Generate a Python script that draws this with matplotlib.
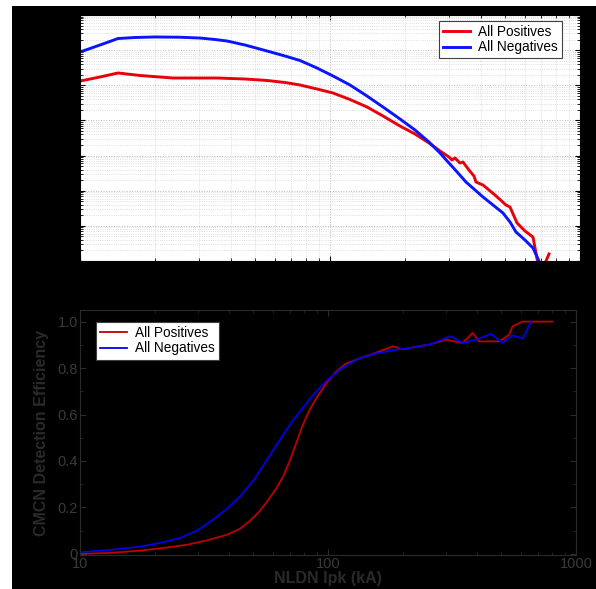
import matplotlib
matplotlib.use("Agg")
import matplotlib.pyplot as plt
from matplotlib.patches import Rectangle
from matplotlib.ticker import LogLocator, NullFormatter, FixedLocator, FixedFormatter

plt.rcParams['font.family'] = ['Liberation Sans', 'DejaVu Sans']

# ---------------- top panel: Ipk distributions (log-log) ----------------
pos_hist_x = [10, 12.02, 14.19, 17.38, 23.55, 35.32, 45.71, 55.98, 66.07, 75.86,
              88.72, 102.8, 120.2, 140.6, 162.9, 190.5, 218.8, 248.9, 275.4, 299.2,
              307.6, 316.2, 331.1, 340.4, 359.7, 376.7, 383.7, 409.3, 457.1, 505.8,
              524.8, 559.8, 602.6, 648.6, 692.0, 751.6]
pos_hist_y = [1.32e5, 1.72e5, 2.24e5, 1.90e5, 1.61e5, 1.61e5, 1.51e5, 1.37e5,
              1.20e5, 1.02e5, 7.84e4, 6.03e4, 3.94e4, 2.41e4, 1.34e4, 6.93e3,
              4.11e3, 2.28e3, 1.35e3, 910, 748, 853, 614, 656, 388, 262, 177, 145,
              75.5, 39.2, 34.4, 12.1, 7.13, 4.81, 0.4, 1.58]

neg_hist_x = [10, 12.02, 14.19, 16.6, 19.95, 25.12, 30.2, 34.67, 38.73, 45.71,
              55.98, 66.07, 75.86, 88.72, 102.8, 120.2, 140.6, 162.9, 190.5, 218.8,
              248.9, 275.4, 299.2, 325.1, 349.9, 380.2, 409.3, 448.7, 492.0, 524.8,
              554.6, 602.6, 648.6, 685.5, 704.7]
neg_hist_y = [8.85e5, 1.40e6, 2.14e6, 2.29e6, 2.37e6, 2.33e6, 2.21e6, 2.01e6,
              1.82e6, 1.40e6, 9.46e5, 6.81e5, 5.07e5, 3.10e5, 1.84e5, 1.02e5,
              4.95e4, 2.41e4, 1.10e4, 5.33e3, 2.43e3, 1.18e3, 614, 319, 177, 105,
              66.2, 39.2, 23.2, 12.9, 6.68, 3.95, 2.34, 1.0, 0.4]

# ---------------- bottom panel: detection efficiency ----------------
pos_eff_x = [10, 13.21, 17.46, 22.01, 27.0, 32.51, 39.13, 44.17, 48.45, 52.72,
             56.75, 61.71, 65.87, 70.27, 74.31, 78.5, 83.8, 89.5, 98.2, 107.7,
             118.2, 129.7, 156.2, 182.8, 200, 220, 256, 299, 349, 383, 407, 491,
             538, 555, 610, 805]
pos_eff_y = [0.0, 0.004, 0.014, 0.026, 0.039, 0.058, 0.082, 0.108, 0.142, 0.181,
             0.224, 0.280, 0.332, 0.403, 0.474, 0.545, 0.615, 0.668, 0.733, 0.784,
             0.819, 0.836, 0.866, 0.894, 0.880, 0.889, 0.901, 0.922, 0.908, 0.951,
             0.915, 0.915, 0.944, 0.980, 1.0, 1.0]

neg_eff_x = [10, 13.21, 17.46, 21.02, 25.30, 29.62, 34.37, 39.13, 44.17, 50.32,
             56.75, 64.0, 71.6, 77.1, 84.6, 92.8, 101.9, 114.9, 129.7, 154.7,
             187.9, 210, 256, 313, 349, 395, 454, 506, 555, 610, 659]
neg_eff_y = [0.007, 0.017, 0.031, 0.047, 0.068, 0.099, 0.147, 0.194, 0.247, 0.319,
             0.405, 0.491, 0.569, 0.613, 0.668, 0.716, 0.759, 0.802, 0.836, 0.862,
             0.879, 0.885, 0.901, 0.937, 0.908, 0.922, 0.947, 0.908, 0.941, 0.927,
             1.0]

series_labels = ["All Positives", "All Negatives"]
x_ticks = [10, 100, 1000]
x_ticklabels = ["10", "100", "1000"]
y_ticks = [0, 0.2, 0.4, 0.6, 0.8, 1.0]
y_ticklabels = ["0", "0.2", "0.4", "0.6", "0.8", "1.0"]

W, H = 596, 589
fig = plt.figure(figsize=(W / 100, H / 100), dpi=100, facecolor='white')
fig.patches.append(Rectangle((12 / W, 0), (W - 12) / W, (H - 6) / H,
                             transform=fig.transFigure, facecolor='black',
                             edgecolor='none', zorder=-10))

# ---- top axes ----
ax1 = fig.add_axes([80 / W, 1 - 261 / H, 500 / W, 246 / H])
ax1.set_facecolor('white')
ax1.plot(pos_hist_x, pos_hist_y, color='#e8000b', lw=2.1, label=series_labels[0])
ax1.plot(neg_hist_x, neg_hist_y, color='#0a14ff', lw=2.1, label=series_labels[1])
ax1.set_xscale('log')
ax1.set_yscale('log')
ax1.set_xlim(10, 1000)
ax1.set_ylim(1, 1e7)
ax1.yaxis.set_major_locator(LogLocator(base=10, numticks=20))
ax1.yaxis.set_minor_locator(LogLocator(base=10, subs=range(2, 10), numticks=20))
ax1.grid(True, which='major', linestyle=':', color='#b8b8b8', lw=0.7)
ax1.grid(True, which='minor', linestyle=':', color='#d4d4d4', lw=0.6)
ax1.tick_params(which='both', direction='in', top=True, right=True, colors='black',
                labelcolor='black', labelsize=10)
for s in ax1.spines.values():
    s.set_color('black')
leg1 = ax1.legend(loc='upper right', fontsize=9.8, frameon=True, fancybox=False,
                  edgecolor='#404040', framealpha=1, borderpad=0.3,
                  handlelength=2.0, handletextpad=0.6, labelspacing=0.1,
                  borderaxespad=0, bbox_to_anchor=(0.964, 0.976))
leg1.get_frame().set_linewidth(0.8)

# ---- bottom axes ----
dark = '#2a2a2a'
tick_col = '#3a3a3a'
ax2 = fig.add_axes([80 / W, 1 - 555 / H, 496 / W, 245 / H])
ax2.set_facecolor('black')
ax2.plot(pos_eff_x, pos_eff_y, color='#c00000', lw=1.3, label=series_labels[0])
ax2.plot(neg_eff_x, neg_eff_y, color='#0000ee', lw=1.3, label=series_labels[1])
ax2.set_xscale('log')
ax2.set_xlim(10, 1000)
ax2.set_ylim(-0.005, 1.05)
ax2.xaxis.set_major_locator(FixedLocator(x_ticks))
ax2.xaxis.set_major_formatter(FixedFormatter(x_ticklabels))
ax2.xaxis.set_minor_locator(LogLocator(base=10, subs=range(2, 10), numticks=20))
ax2.xaxis.set_minor_formatter(NullFormatter())
ax2.yaxis.set_major_locator(FixedLocator(y_ticks))
ax2.yaxis.set_major_formatter(FixedFormatter(y_ticklabels))
ax2.yaxis.set_minor_locator(FixedLocator([0.1, 0.3, 0.5, 0.7, 0.9]))
ax2.tick_params(which='both', direction='in', top=True, right=True, color=dark,
                labelcolor=tick_col, labelsize=10.5)
ax2.tick_params(axis='x', pad=1.5)
ax2.tick_params(axis='y', pad=1.5)
ax2.tick_params(which='major', length=4)
ax2.tick_params(which='minor', length=2.5)
for s in ax2.spines.values():
    s.set_color(dark)
    s.set_linewidth(0.8)
ax2.set_ylabel("CMCN Detection Efficiency", color=dark, fontsize=11.5,
               fontweight='bold', labelpad=6)
ax2.set_xlabel("NLDN Ipk (kA)", color=dark, fontsize=11.5, fontweight='bold',
               labelpad=0)
leg2 = ax2.legend(loc='upper left', fontsize=9.8, frameon=True, fancybox=False,
                  edgecolor='#404040', facecolor='white', framealpha=1,
                  borderpad=0.3, handlelength=2.0, handletextpad=0.6,
                  labelspacing=0.1, borderaxespad=0,
                  bbox_to_anchor=(0.032, 0.951))
leg2.get_frame().set_linewidth(0.8)

fig.savefig("out.png", dpi=100, facecolor=fig.get_facecolor())
